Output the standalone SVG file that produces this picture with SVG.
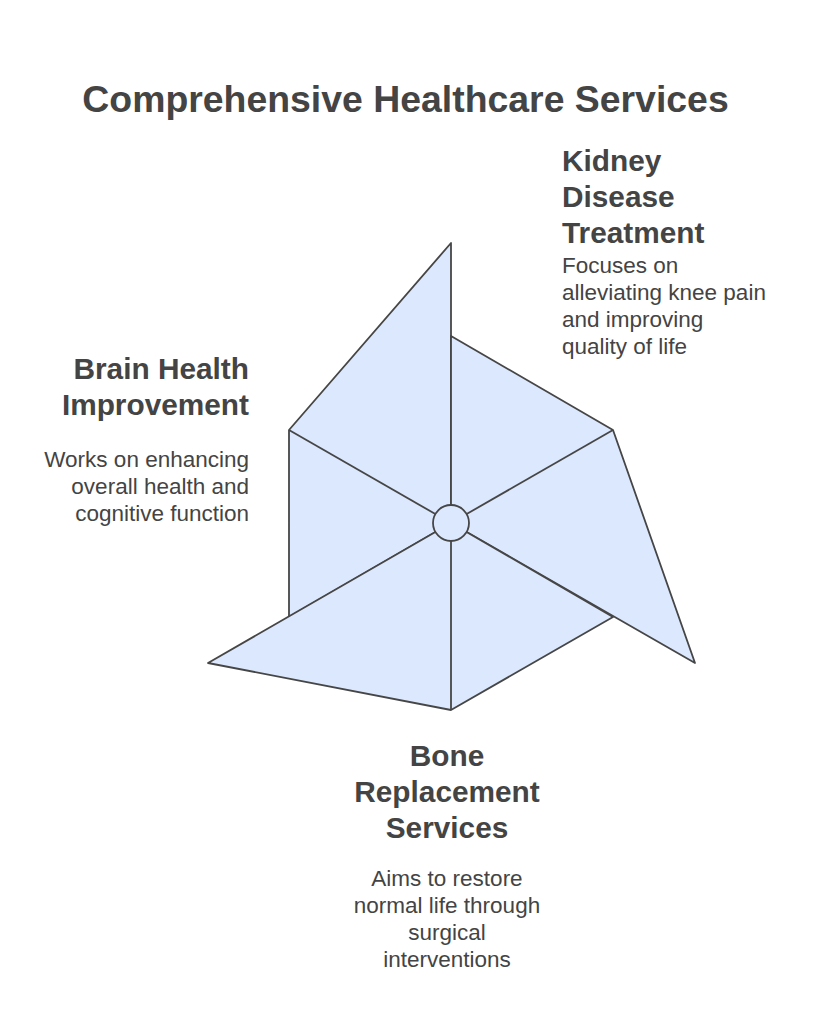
<svg xmlns="http://www.w3.org/2000/svg" width="821" height="1028" viewBox="0 0 821 1028">
<style>
.sh{fill:#dce8fd;stroke:#464646;stroke-width:1.8;stroke-linejoin:round}
.ln{stroke:#464646;stroke-width:1.8;fill:none}
.t{font-family:"Liberation Sans",Arial,sans-serif;fill:#444444}
.title{font-size:37.4px;font-weight:bold}
.h{font-size:29.8px;font-weight:bold}
.d{font-size:22.5px}
</style>
<rect width="821" height="1028" fill="#ffffff"/>
<text class="t title" x="405.5" y="112" text-anchor="middle">Comprehensive Healthcare Services</text>
<g id="shapes">
<g id="brain-shape"><polygon class="sh" points="451,523 289,617 289,430 451,243"/></g>
<g id="kidney-shape"><polygon class="sh" points="451,523 451,336 613,430 695,663"/></g>
<g id="bone-shape"><polygon class="sh" points="451,523 613,617 451,710 208,663"/></g>
</g>
<g id="connectors">
<line class="ln" x1="451" y1="523" x2="289" y2="430"/>
<line class="ln" x1="451" y1="523" x2="613" y2="430"/>
<line class="ln" x1="451" y1="523" x2="451" y2="710"/>
</g>
<g id="hub"><circle class="sh" cx="451" cy="523" r="18"/></g>
<g id="kidney">
<text class="t h" x="562" y="171">Kidney</text>
<text class="t h" x="562" y="207">Disease</text>
<text class="t h" x="562" y="243">Treatment</text>
<text class="t d" x="562" y="273">Focuses on</text>
<text class="t d" x="562" y="300">alleviating knee pain</text>
<text class="t d" x="562" y="327">and improving</text>
<text class="t d" x="562" y="354">quality of life</text>
</g>
<g id="brain">
<text class="t h" x="249" y="379" text-anchor="end">Brain Health</text>
<text class="t h" x="249" y="415" text-anchor="end">Improvement</text>
<text class="t d" x="249" y="467" text-anchor="end">Works on enhancing</text>
<text class="t d" x="249" y="494" text-anchor="end">overall health and</text>
<text class="t d" x="249" y="521" text-anchor="end">cognitive function</text>
</g>
<g id="bone">
<text class="t h" x="447" y="766" text-anchor="middle">Bone</text>
<text class="t h" x="447" y="802" text-anchor="middle">Replacement</text>
<text class="t h" x="447" y="838" text-anchor="middle">Services</text>
<text class="t d" x="447" y="886" text-anchor="middle">Aims to restore</text>
<text class="t d" x="447" y="913" text-anchor="middle">normal life through</text>
<text class="t d" x="447" y="940" text-anchor="middle">surgical</text>
<text class="t d" x="447" y="967" text-anchor="middle">interventions</text>
</g>
</svg>
